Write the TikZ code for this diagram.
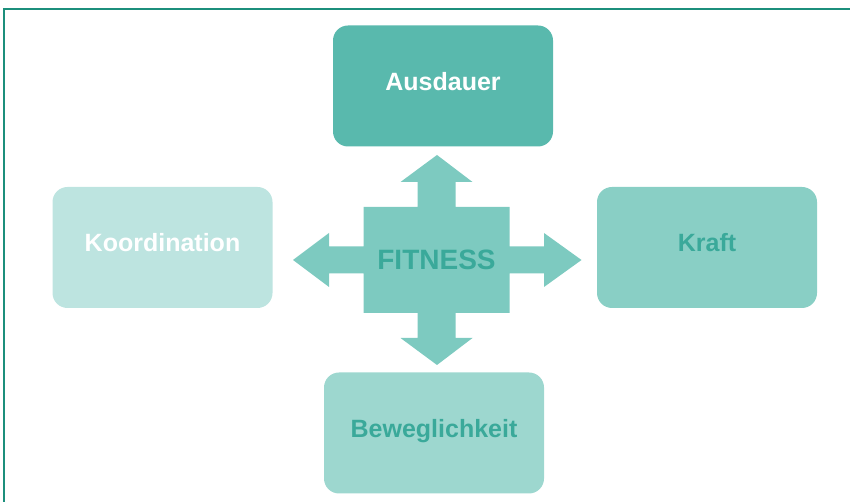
\documentclass[tikz,border=0pt]{standalone}
\usepackage{fontspec}
\setmainfont{Liberation Sans}
\usepackage{tikz}
\usetikzlibrary{positioning}

\definecolor{frameline}{HTML}{1C8F7C}
\definecolor{ausdfill}{HTML}{59B9AD}
\definecolor{koordfill}{HTML}{BDE4E0}
\definecolor{kraftfill}{HTML}{89CFC5}
\definecolor{beweglfill}{HTML}{9DD7CF}
\definecolor{crossfill}{HTML}{7DCAC0}
\definecolor{darktext}{HTML}{3AA99A}

\begin{document}
\begin{tikzpicture}[x=1pt,
        y=1pt,
        on grid,
        every node/.style={font=\fontsize{25}{29}\selectfont\bfseries},
        box/.style={rounded corners=15pt,minimum width=220pt,minimum height=121pt,inner sep=0pt,text height=19pt,text depth=10pt},
        hub/.style={text=darktext,font=\fontsize{28}{32}\selectfont\bfseries,inner sep=0pt}]

      \useasboundingbox (0,0) rectangle (850,502);
      \draw[frameline, line width=1.5pt] (4,0) |- (850,493);

      \node[hub] (fit) at (436.5,242) {};
      \begin{scope}[shift={(fit.center)}]
        \fill[crossfill] (-73,53) -- (-19,53) -- (-19,78) -- (-36,78) -- (0.5,105) -- (36,78) -- (19,78) -- (19,53)
          -- (73,53) -- (73,13.5) -- (107.5,13.5) -- (107.5,27) -- (145,0) -- (107.5,-27) -- (107.5,-13.5) -- (73,-13.5)
          -- (73,-53) -- (19,-53) -- (19,-78) -- (36,-78) -- (0.5,-105) -- (-36,-78) -- (-19,-78) -- (-19,-53)
          -- (-73,-53) -- (-73,-13.5) -- (-107.5,-13.5) -- (-107.5,-27) -- (-143.5,0) -- (-107.5,27) -- (-107.5,13.5) -- (-73,13.5) -- cycle;
      \end{scope}
      \node[hub] at (fit) {FITNESS};

      \node[box, fill=ausdfill, text=white]    (ausd)   [above right=174pt and 6.5pt of fit] {Ausdauer};
      \node[box, fill=kraftfill, text=darktext] (kraft)  [above right=12.5pt and 270.5pt of fit] {Kraft};
      \node[box, fill=koordfill, text=white]   (koord)  [above left=12.5pt and 274pt of fit] {Koordination};
      \node[box, fill=beweglfill, text=darktext] (bewegl) [below left=173pt and 2.5pt of fit] {Beweglichkeit};

\end{tikzpicture}
\end{document}
